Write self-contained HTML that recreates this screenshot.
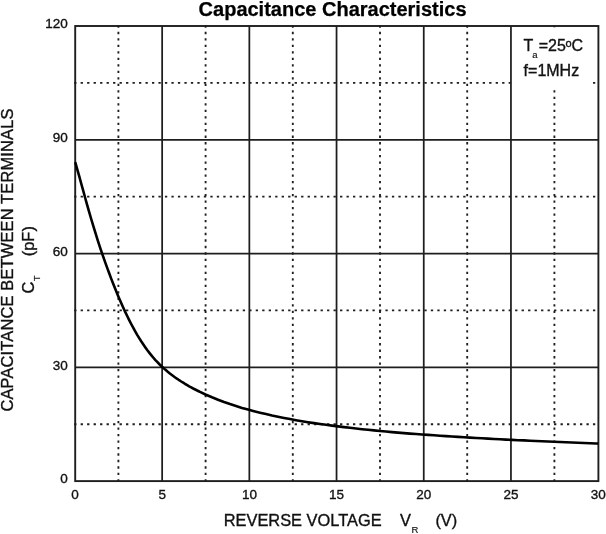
<!DOCTYPE html>
<html lang="en">
<head>
<meta charset="utf-8">
<title>Capacitance Characteristics</title>
<style>
html,body{margin:0;padding:0;background:#fff;}
body{width:606px;height:534px;overflow:hidden;}
svg{display:block;will-change:transform;}
text{font-family:"Liberation Sans",Arial,Helvetica,sans-serif;fill:#111;stroke:#111;stroke-width:0.35px;}
.tick{font-size:13.5px;}
.lab{font-size:16.4px;}
.ann{font-size:16px;}
.sub{font-size:9.5px;stroke-width:0.15px;}
.title{font-size:20px;font-weight:bold;fill:#000;stroke:#000;stroke-width:0.25px;}
</style>
</head>
<body>
<svg width="606" height="534" viewBox="0 0 606 534">
<rect x="0" y="0" width="606" height="534" fill="#ffffff"/>

<g stroke="#1e1e1e" stroke-width="1.85" stroke-dasharray="2.3 4.185" fill="none">
<line x1="118.40" y1="25.35" x2="118.40" y2="481.1"/>
<line x1="205.60" y1="25.35" x2="205.60" y2="481.1"/>
<line x1="292.80" y1="25.35" x2="292.80" y2="481.1"/>
<line x1="380.00" y1="25.35" x2="380.00" y2="481.1"/>
<line x1="467.20" y1="25.35" x2="467.20" y2="481.1"/>
<line x1="554.40" y1="25.35" x2="554.40" y2="481.1"/>
<line x1="74.15" y1="424.21" x2="598.4" y2="424.21"/>
<line x1="74.15" y1="310.44" x2="598.4" y2="310.44"/>
<line x1="74.15" y1="196.66" x2="598.4" y2="196.66"/>
<line x1="74.15" y1="82.89" x2="598.4" y2="82.89"/>
</g>
<rect x="512.6" y="27.4" width="80.4" height="61" fill="#ffffff"/>
<g stroke="#1e1e1e" stroke-width="1.75" fill="none">
<line x1="162.15" y1="26.0" x2="162.15" y2="481.1"/>
<line x1="249.35" y1="26.0" x2="249.35" y2="481.1"/>
<line x1="336.55" y1="26.0" x2="336.55" y2="481.1"/>
<line x1="423.75" y1="26.0" x2="423.75" y2="481.1"/>
<line x1="510.95" y1="26.0" x2="510.95" y2="481.1"/>
<line x1="75.2" y1="367.33" x2="598.4" y2="367.33"/>
<line x1="75.2" y1="253.55" x2="598.4" y2="253.55"/>
<line x1="75.2" y1="139.78" x2="598.4" y2="139.78"/>
</g>
<rect x="75.2" y="26.0" width="523.2" height="455.1" fill="none" stroke="#1e1e1e" stroke-width="1.9"/>
<path d="M75.2,162.2 L77.2,169.1 L79.2,176.2 L81.2,183.5 L83.2,190.7 L85.2,198.0 L87.2,205.1 L89.2,212.1 L91.2,219.0 L93.2,225.7 L95.2,232.2 L97.2,238.6 L99.2,244.8 L101.2,250.8 L103.2,256.7 L105.2,262.4 L107.2,267.9 L109.2,273.3 L111.2,278.6 L113.2,283.8 L115.2,288.8 L117.2,293.7 L119.2,298.5 L121.2,303.1 L123.2,307.5 L125.2,311.9 L127.2,316.0 L129.2,320.1 L131.2,324.0 L133.2,327.7 L135.2,331.3 L137.2,334.8 L139.2,338.1 L141.2,341.3 L143.2,344.3 L145.2,347.2 L147.2,350.0 L149.2,352.6 L151.2,355.1 L153.2,357.5 L155.2,359.8 L157.2,361.9 L159.2,364.0 L161.2,366.0 L163.2,367.8 L165.2,369.6 L167.2,371.3 L169.2,372.9 L171.2,374.5 L173.2,376.0 L175.2,377.5 L177.2,378.8 L179.2,380.2 L181.2,381.5 L183.2,382.7 L185.2,384.0 L187.2,385.1 L189.2,386.3 L191.2,387.4 L193.2,388.5 L195.2,389.5 L197.2,390.5 L199.2,391.5 L200.0,391.9 L206.0,394.7 L212.0,397.3 L218.0,399.7 L224.0,402.0 L230.0,404.1 L236.0,406.0 L242.0,407.9 L248.0,409.6 L254.0,411.2 L260.0,412.7 L266.0,414.1 L272.0,415.5 L278.0,416.7 L284.0,417.9 L290.0,419.1 L296.0,420.2 L302.0,421.2 L308.0,422.2 L314.0,423.1 L320.0,424.0 L326.0,424.8 L332.0,425.6 L338.0,426.4 L344.0,427.1 L350.0,427.8 L356.0,428.5 L362.0,429.2 L368.0,429.8 L374.0,430.4 L380.0,431.0 L386.0,431.5 L392.0,432.1 L398.0,432.6 L404.0,433.1 L410.0,433.6 L416.0,434.0 L422.0,434.5 L428.0,434.9 L434.0,435.3 L440.0,435.7 L446.0,436.1 L452.0,436.5 L458.0,436.9 L464.0,437.3 L470.0,437.6 L476.0,438.0 L482.0,438.3 L488.0,438.6 L494.0,439.0 L500.0,439.3 L506.0,439.6 L512.0,439.9 L518.0,440.2 L524.0,440.4 L530.0,440.7 L536.0,441.0 L542.0,441.3 L548.0,441.5 L554.0,441.8 L560.0,442.0 L566.0,442.3 L572.0,442.5 L578.0,442.8 L584.0,443.0 L590.0,443.2 L596.0,443.5 L598.2,443.5" fill="none" stroke="#000" stroke-width="2.6" stroke-linejoin="round" stroke-linecap="butt"/>
<text class="title" x="198.6" y="15.6">Capacitance Characteristics</text>
<text class="tick" x="67.8" y="483.4" text-anchor="end">0</text>
<text class="tick" x="67.8" y="369.6" text-anchor="end">30</text>
<text class="tick" x="67.8" y="255.9" text-anchor="end">60</text>
<text class="tick" x="67.8" y="142.1" text-anchor="end">90</text>
<text class="tick" x="67.8" y="28.3" text-anchor="end">120</text>
<text class="tick" x="75.0" y="498.6" text-anchor="middle">0</text>
<text class="tick" x="162.2" y="498.6" text-anchor="middle">5</text>
<text class="tick" x="249.4" y="498.6" text-anchor="middle">10</text>
<text class="tick" x="336.6" y="498.6" text-anchor="middle">15</text>
<text class="tick" x="423.8" y="498.6" text-anchor="middle">20</text>
<text class="tick" x="511.0" y="498.6" text-anchor="middle">25</text>
<text class="tick" x="598.2" y="498.6" text-anchor="middle">30</text>
<text class="ann" x="523.6" y="51.3">T<tspan class="sub" dx="-1.2" dy="6.2">a</tspan><tspan dx="1.2" dy="-6.2">=25</tspan><tspan font-size="11px" dx="-0.2" dy="-4.5">o</tspan><tspan dx="-0.3" dy="4.5">C</tspan></text>
<text class="ann" x="523.6" y="75.8">f=1MHz</text>
<text class="lab" x="223.7" y="525.6">REVERSE VOLTAGE</text>
<text class="lab" x="400" y="525.6">V<tspan class="sub" dx="0.6" dy="7.7">R</tspan></text>
<text class="lab" x="435.4" y="525.6">(V)</text>
<text class="lab" transform="translate(13.3,411.6) rotate(-90)" textLength="303" lengthAdjust="spacing">CAPACITANCE BETWEEN TERMINALS</text>
<text class="lab" transform="translate(34,293.4) rotate(-90)">C<tspan class="sub" dx="0.4" dy="6">T</tspan></text>
<text class="lab" transform="translate(34,256.2) rotate(-90)">(pF)</text>
</svg>
</body>
</html>
